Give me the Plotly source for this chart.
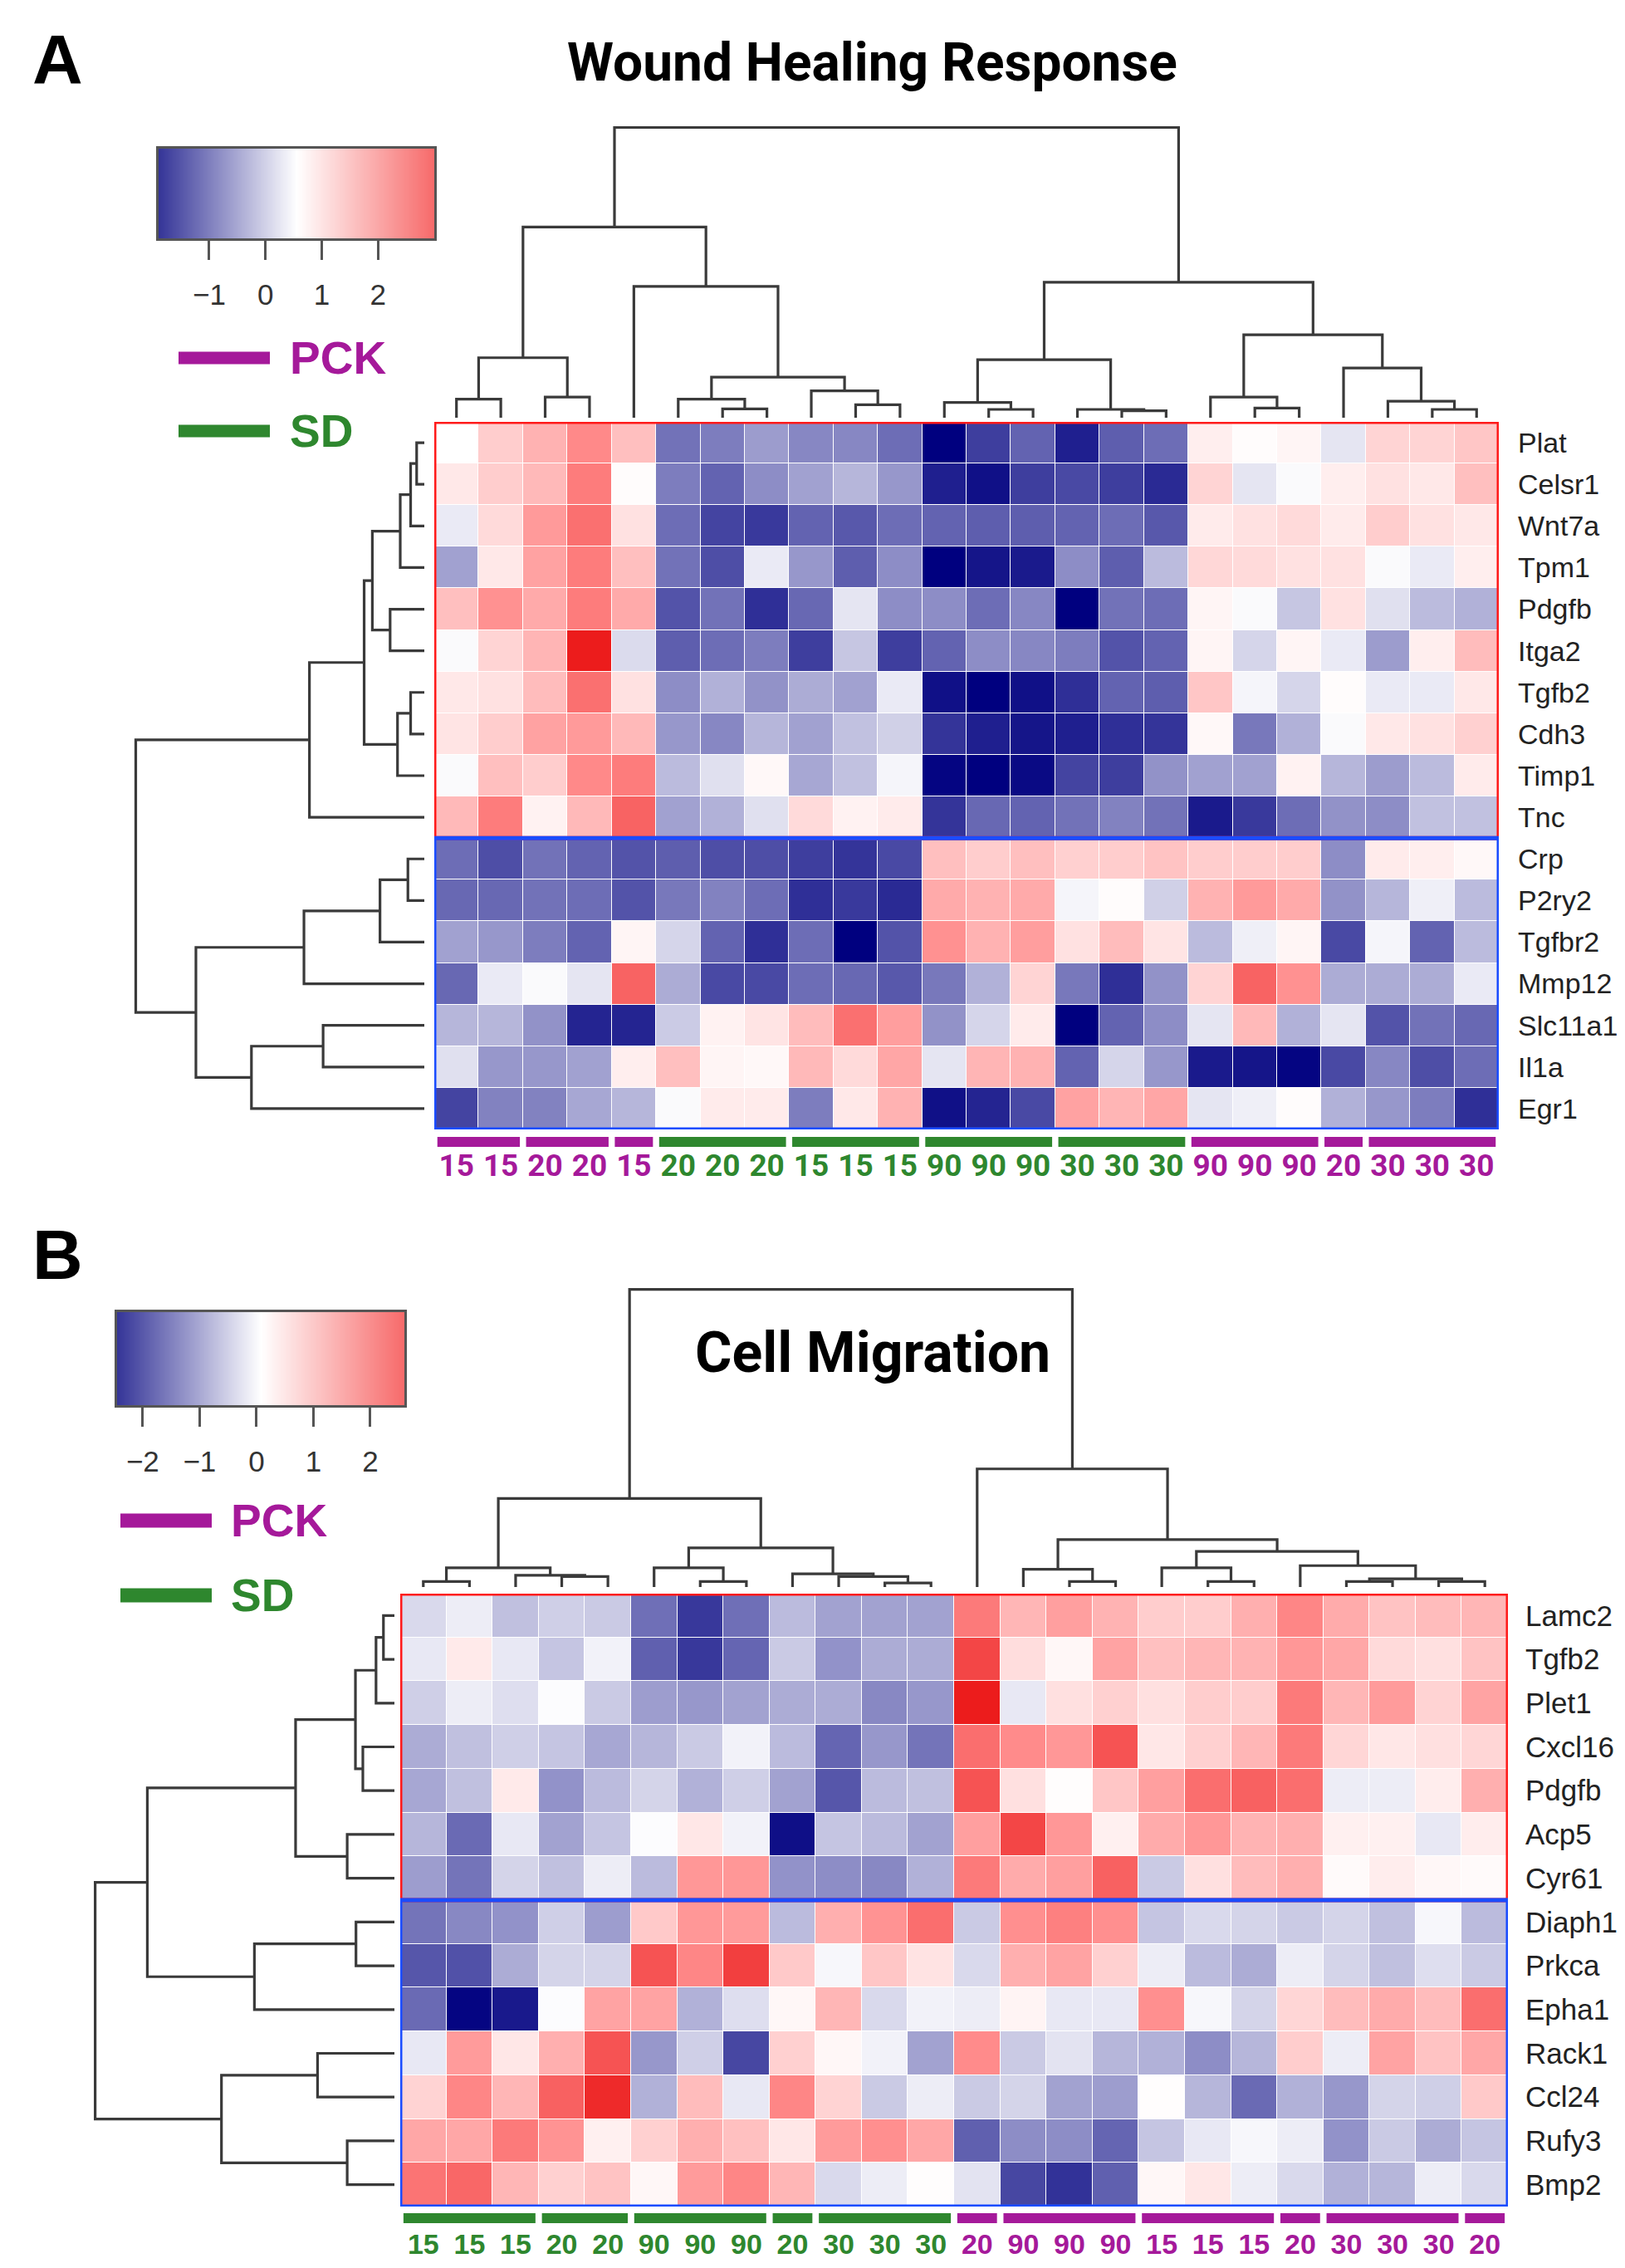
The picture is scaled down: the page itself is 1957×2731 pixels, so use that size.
import plotly.graph_objects as go

# ---------------- data: panel A (Wound Healing Response) ----------------
genes_a = ["Plat", "Celsr1", "Wnt7a", "Tpm1", "Pdgfb", "Itga2", "Tgfb2", "Cdh3", "Timp1", "Tnc",
           "Crp", "P2ry2", "Tgfbr2", "Mmp12", "Slc11a1", "Il1a", "Egr1"]
times_a = ["15", "15", "20", "20", "15", "20", "20", "20", "15", "15", "15", "90",
           "90", "90", "30", "30", "30", "90", "90", "90", "20", "30", "30", "30"]
groups_a = ["PCK"] * 5 + ["SD"] * 12 + ["PCK"] * 7

plat_a = [0.55, 1.3, 1.7, 2.2, 1.5, -0.8, -0.7, -0.4, -0.6, -0.6, -0.85, -1.9, -1.3, -0.95, -1.6, -1.0, -0.85, 0.8, 0.6, 0.7, 0.3, 1.2, 1.2, 1.4]
celsr1_a = [0.9, 1.3, 1.6, 2.3, 0.6, -0.7, -0.95, -0.55, -0.35, -0.15, -0.45, -1.6, -1.75, -1.3, -1.2, -1.3, -1.5, 1.2, 0.3, 0.5, 0.8, 1.0, 0.9, 1.5]
wnt7a_a = [0.35, 1.1, 2.0, 2.4, 1.0, -0.85, -1.25, -1.35, -0.95, -1.05, -0.85, -0.95, -1.0, -1.0, -0.95, -0.85, -1.05, 0.85, 1.0, 1.1, 0.85, 1.3, 1.0, 0.9]
tpm1_a = [-0.35, 0.9, 1.9, 2.3, 1.5, -0.8, -1.15, 0.35, -0.45, -1.0, -0.55, -1.9, -1.7, -1.65, -0.55, -1.0, -0.1, 1.15, 1.1, 1.0, 1.0, 0.5, 0.35, 0.8]
pdgfb_a = [1.5, 2.1, 1.8, 2.3, 1.8, -1.1, -0.8, -1.45, -0.9, 0.3, -0.55, -0.55, -0.85, -0.6, -1.9, -0.8, -0.85, 0.7, 0.5, 0.0, 1.0, 0.25, -0.1, -0.2]
itga2_a = [0.5, 1.2, 1.65, 3.0, 0.2, -1.0, -0.85, -0.7, -1.3, 0.0, -1.3, -0.95, -0.55, -0.6, -0.7, -1.1, -0.95, 0.7, 0.15, 0.7, 0.35, -0.4, 0.8, 1.55]
tgfb2_a = [0.9, 1.0, 1.55, 2.4, 1.0, -0.55, -0.2, -0.5, -0.25, -0.35, 0.35, -1.75, -1.9, -1.75, -1.45, -0.95, -1.0, 1.4, 0.45, 0.15, 0.6, 0.35, 0.35, 0.9]
cdh3_a = [0.95, 1.3, 1.9, 2.0, 1.6, -0.45, -0.6, -0.15, -0.35, -0.05, 0.1, -1.4, -1.6, -1.7, -1.6, -1.45, -1.4, 0.65, -0.75, -0.2, 0.5, 0.9, 1.0, 1.25]
timp1_a = [0.5, 1.5, 1.3, 2.2, 2.3, -0.1, 0.25, 0.65, -0.3, -0.05, 0.45, -1.85, -1.9, -1.8, -1.25, -1.3, -0.5, -0.35, -0.35, 0.75, -0.15, -0.4, -0.1, 0.85]
tnc_a = [1.6, 2.3, 0.75, 1.6, 2.5, -0.35, -0.2, 0.25, 1.1, 0.75, 0.85, -1.4, -0.9, -0.95, -0.8, -0.65, -0.8, -1.65, -1.35, -0.85, -0.5, -0.55, -0.05, -0.05]
crp_a = [-0.85, -1.15, -0.8, -0.95, -1.1, -1.0, -1.15, -1.15, -1.3, -1.4, -1.2, 1.5, 1.3, 1.5, 1.25, 1.3, 1.45, 1.3, 1.3, 1.3, -0.55, 0.85, 0.8, 0.65]
p2ry2_a = [-0.9, -0.9, -0.8, -0.85, -1.1, -0.75, -0.65, -0.85, -1.45, -1.35, -1.5, 1.8, 1.7, 1.8, 0.45, 0.6, 0.1, 1.7, 2.0, 1.8, -0.5, -0.15, 0.4, -0.1]
tgfbr2_a = [-0.35, -0.45, -0.7, -0.95, 0.7, 0.15, -0.95, -1.45, -0.85, -1.9, -1.1, 2.1, 1.7, 1.95, 1.0, 1.55, 0.95, -0.1, 0.4, 0.7, -1.2, 0.45, -0.95, -0.1]
mmp12_a = [-0.9, 0.35, 0.5, 0.3, 2.5, -0.25, -1.2, -1.2, -0.85, -0.9, -1.05, -0.75, -0.2, 1.2, -0.75, -1.45, -0.5, 1.2, 2.5, 2.1, -0.25, -0.25, -0.25, 0.35]
slc11a1_a = [-0.15, -0.15, -0.5, -1.55, -1.55, 0.05, 0.75, 0.95, 1.55, 2.4, 1.95, -0.5, 0.15, 0.85, -1.9, -0.95, -0.55, 0.3, 1.6, -0.2, 0.3, -1.1, -0.8, -0.9]
il1a_a = [0.25, -0.45, -0.45, -0.35, 0.8, 1.5, 0.7, 0.65, 1.6, 1.1, 1.85, 0.3, 1.65, 1.7, -0.95, 0.15, -0.45, -1.65, -1.7, -1.85, -1.2, -0.6, -1.15, -0.85]
egr1_a = [-1.25, -0.65, -0.65, -0.3, -0.15, 0.5, 0.85, 0.85, -0.7, 0.9, 1.7, -1.75, -1.55, -1.2, 1.9, 1.65, 1.85, 0.3, 0.4, 0.6, -0.2, -0.45, -0.7, -1.45]

# dendrograms as nested (height, left, right); ints are leaf positions
col_tree_a = (1050,
              (690,
               (217, (67, 0, 1), (75, 2, 3)),
               (475, 4, (147, (67, 5, (32, 6, 7)), (97, 8, (47, 9, 10))))),
              (490,
               (210, (55, 11, (30, 12, 13)), (30, 14, (25, 15, 16))),
               (300, (75, 17, (35, 18, 19)), (180, 20, (60, 21, (30, 22, 23))))))
row_tree_a = (1055,
              (420,
               (220,
                (190, (88, (50, (28, 0, 1), 2), 3), (125, 4, 5)),
                (98, (50, 6, 7), 8)),
               9),
              (835,
               (440, (162, (60, 10, 11), 12), 13),
               (632, (370, 14, 15), 16)))
key_range_a = [-1.9, 3.0]
key_ticks_a = [-1, 0, 1, 2]

# ---------------- data: panel B (Cell Migration) ----------------
genes_b = ["Lamc2", "Tgfb2", "Plet1", "Cxcl16", "Pdgfb", "Acp5", "Cyr61",
           "Diaph1", "Prkca", "Epha1", "Rack1", "Ccl24", "Rufy3", "Bmp2"]
times_b = ["15", "15", "15", "20", "20", "90", "90", "90", "20", "30", "30", "30",
           "20", "90", "90", "90", "15", "15", "15", "20", "30", "30", "30", "20"]
groups_b = ["SD"] * 12 + ["PCK"] * 12

lamc2_b = [-0.3, -0.1, -0.55, -0.4, -0.45, -1.35, -1.9, -1.35, -0.6, -0.85, -0.85, -0.85, 1.9, 1.2, 1.5, 1.25, 0.85, 0.85, 1.3, 1.8, 1.35, 1.0, 1.1, 1.2]
tgfb2_b = [-0.15, 0.4, -0.15, -0.5, -0.05, -1.5, -1.9, -1.45, -0.45, -1.0, -0.75, -0.75, 2.3, 0.6, 0.2, 1.45, 1.05, 1.2, 1.25, 1.6, 1.4, 0.65, 0.55, 1.0]
plet1_b = [-0.4, -0.1, -0.25, 0.05, -0.45, -0.9, -0.95, -0.85, -0.75, -0.75, -1.1, -0.95, 2.7, -0.15, 0.55, 0.8, 0.55, 0.85, 0.85, 1.9, 1.2, 1.55, 0.75, 1.45]
cxcl16_b = [-0.75, -0.55, -0.4, -0.5, -0.8, -0.65, -0.45, -0.05, -0.6, -1.45, -0.95, -1.3, 2.0, 1.75, 1.6, 2.2, 0.45, 0.8, 1.2, 1.9, 0.7, 0.45, 0.55, 0.7]
pdgfb_b = [-0.8, -0.55, 0.4, -1.0, -0.6, -0.35, -0.7, -0.4, -0.85, -1.6, -0.6, -0.55, 2.2, 0.55, 0.1, 0.95, 1.5, 2.0, 2.1, 2.0, -0.1, -0.1, 0.35, 1.3]
acp5_b = [-0.65, -1.4, -0.15, -0.85, -0.5, 0.05, 0.45, -0.05, -2.3, -0.5, -0.6, -0.85, 1.5, 2.3, 1.6, 0.3, 1.35, 1.6, 1.25, 1.3, 0.3, 0.3, -0.15, 0.35]
cyr61_b = [-0.9, -1.3, -0.35, -0.55, -0.1, -0.6, 1.6, 1.6, -1.0, -1.05, -1.1, -0.7, 1.9, 1.35, 1.5, 2.1, -0.45, 0.55, 1.1, 1.3, 0.15, 0.35, 0.2, 0.15]
diaph1_b = [-1.3, -1.1, -1.0, -0.4, -0.9, 0.9, 1.6, 1.55, -0.6, 1.3, 1.65, 2.0, -0.45, 1.7, 1.85, 1.7, -0.5, -0.3, -0.35, -0.45, -0.35, -0.55, 0.0, -0.6]
prkca_b = [-1.6, -1.65, -0.75, -0.35, -0.35, 2.2, 1.8, 2.35, 0.9, 0.0, 0.95, 0.5, -0.3, 1.3, 1.45, 0.8, -0.1, -0.6, -0.75, -0.1, -0.35, -0.55, -0.25, -0.45]
epha1_b = [-1.4, -2.4, -2.2, 0.05, 1.45, 1.45, -0.7, -0.25, 0.2, 1.2, -0.3, -0.05, -0.1, 0.25, -0.15, -0.15, 1.7, 0.0, -0.35, 0.7, 1.1, 1.35, 1.1, 2.0]
rack1_b = [-0.15, 1.55, 0.45, 1.3, 2.2, -0.95, -0.4, -1.75, 0.8, 0.2, -0.05, -0.85, 1.75, -0.45, -0.2, -0.65, -0.7, -1.05, -0.65, 0.85, -0.1, 1.45, 1.0, 1.4]
ccl24_b = [0.75, 1.8, 1.2, 2.1, 2.5, -0.7, 1.1, -0.15, 1.8, 0.75, -0.45, -0.1, -0.45, -0.35, -0.85, -0.9, 0.1, -0.65, -1.4, -0.7, -0.95, -0.35, -0.4, 0.9]
rufy3_b = [1.4, 1.4, 1.9, 1.65, 0.3, 0.8, 1.3, 1.05, 0.45, 1.55, 1.7, 1.4, -1.5, -1.05, -1.05, -1.45, -0.5, -0.15, 0.0, -0.1, -1.0, -0.45, -0.75, -0.5]
bmp2_b = [1.95, 2.05, 1.2, 0.8, 1.0, 0.2, 1.55, 1.8, 1.2, -0.3, -0.1, 0.1, -0.2, -1.75, -1.95, -1.5, 0.2, 0.45, -0.1, -0.3, -0.7, -0.65, -0.1, -0.3]

col_tree_b = (1086,
              (323,
               (70, (20, 0, 1), (43, 2, (38, 3, 4))),
               (143, (70, 5, (20, 6, 7)), (48, 8, (38, 9, (15, 10, 11))))),
              (431,
               12,
               (173, (65, 13, (20, 14, 15)),
                (130, (70, 16, (20, 17, 18)), (78, 19, (30, (20, 20, 21), (20, 22, 23)))))))
row_tree_b = (1090,
              (900,
               (360, (142, (67, (40, 0, 1), 2), (115, 3, 4)), (172, 5, 6)),
               (510, (140, 7, 8), 9)),
              (630, (280, 10, 11), (172, 12, 13)))
key_range_b = [-2.45, 2.6]
key_ticks_b = [-2, -1, 0, 1, 2]

z_a = [plat_a, celsr1_a, wnt7a_a, tpm1_a, pdgfb_a, itga2_a, tgfb2_a, cdh3_a, timp1_a, tnc_a,
       crp_a, p2ry2_a, tgfbr2_a, mmp12_a, slc11a1_a, il1a_a, egr1_a]
z_b = [lamc2_b, tgfb2_b, plet1_b, cxcl16_b, pdgfb_b, acp5_b, cyr61_b,
       diaph1_b, prkca_b, epha1_b, rack1_b, ccl24_b, rufy3_b, bmp2_b]

# ---------------- styling ----------------
W, H = 1957, 2731
PCK_COL = "#A5199A"
SD_COL = "#2E872E"
GROUP_COL = {"PCK": PCK_COL, "SD": SD_COL}
CELL_SCALE = [[0, "#00007F"], [0.5, "#FFFFFF"], [0.735, "#FFB2B2"], [0.835, "#FF8A8A"],
              [0.9, "#F86262"], [1, "#EC1C1C"]]
KEY_SCALE = [[0, "#353598"], [0.5, "#FFFFFF"], [1, "#F76A6A"]]
SANS = "Liberation Sans, Arial, sans-serif"
NARROW = "Roboto, Liberation Sans, sans-serif"
DEND_COL = "#3a3a3a"


def px_x(a, b):
    return [a / W, b / W]


def px_y(top, bottom):
    return [1 - bottom / H, 1 - top / H]


def dendro(tree):
    """Return (pos, height) polyline pieces for a nested (h, left, right) tree."""
    xs, hs = [], []

    def walk(node):
        if isinstance(node, int):
            return float(node), 0.0
        h, left, right = node
        p1, h1 = walk(left)
        p2, h2 = walk(right)
        xs.extend([p1, p1, p2, p2, None])
        hs.extend([h1, h, h, h2, None])
        return (p1 + p2) / 2, h

    walk(tree)
    return xs, hs


def runs(times, groups):
    out = []
    start = 0
    for i in range(1, len(times) + 1):
        if i == len(times) or times[i] != times[start] or groups[i] != groups[start]:
            out.append((start, i - 1, groups[start]))
            start = i
    return out


fig = go.Figure()
shapes, annotations = [], []
hidden = dict(visible=False, showgrid=False, zeroline=False)


def panel(n, z, genes, times, groups, n_top, col_tree, row_tree, zr, ticks,
          hm_x, hm_y, cd_y, rd_x, key_x, key_y, bar_y, lab_font, lab_standoff, gene_size,
          gene_standoff):
    ax = [str(n + i) if n + i > 1 else "" for i in range(4)]
    ncol, nrow = len(times), len(genes)
    # heatmap
    fig.add_trace(go.Heatmap(z=z, zmin=zr[0], zmax=zr[1], colorscale=CELL_SCALE,
                             showscale=False, xgap=1, ygap=1,
                             xaxis="x" + ax[0], yaxis="y" + ax[0], hoverinfo="skip"))
    ticktext = ['<b><span style="color:%s">%s</span></b>' % (GROUP_COL[g], t)
                for t, g in zip(times, groups)]
    fig.update_layout(**{
        "xaxis" + ax[0]: dict(domain=px_x(*hm_x), range=[-0.5, ncol - 0.5], anchor="y" + ax[0],
                              showgrid=False, zeroline=False, ticks="", tickvals=list(range(ncol)),
                              ticktext=ticktext, tickfont=lab_font, ticklabelstandoff=lab_standoff),
        "yaxis" + ax[0]: dict(domain=px_y(*hm_y), range=[nrow - 0.5, -0.5], anchor="x" + ax[0],
                              side="right", showgrid=False, zeroline=False, ticks="",
                              tickvals=list(range(nrow)), ticktext=genes,
                              tickfont=dict(family=SANS, size=gene_size, color="#222"),
                              ticklabelstandoff=gene_standoff),
    })
    # cluster boxes
    shapes.append(dict(type="rect", xref="x" + ax[0], yref="y" + ax[0], x0=-0.5, x1=ncol - 0.5,
                       y0=-0.5, y1=n_top - 0.5, line=dict(color="#FF1A1A", width=5)))
    shapes.append(dict(type="rect", xref="x" + ax[0], yref="y" + ax[0], x0=-0.5, x1=ncol - 0.5,
                       y0=n_top - 0.5, y1=nrow - 0.5, line=dict(color="#1A4CFF", width=5)))
    # group bars under the heatmap
    for a, b, g in runs(times, groups):
        shapes.append(dict(type="rect", xref="x" + ax[0], yref="paper", x0=a - 0.43, x1=b + 0.43,
                           y0=1 - bar_y[1] / H, y1=1 - bar_y[0] / H,
                           fillcolor=GROUP_COL[g], line=dict(width=0)))
    # column dendrogram
    xs, hs = dendro(col_tree)
    fig.add_trace(go.Scatter(x=xs, y=hs, mode="lines", line=dict(color=DEND_COL, width=3.2),
                             xaxis="x" + ax[1], yaxis="y" + ax[1], hoverinfo="skip", showlegend=False))
    fig.update_layout(**{
        "xaxis" + ax[1]: dict(domain=px_x(*hm_x), range=[-0.5, ncol - 0.5], anchor="y" + ax[1], **hidden),
        "yaxis" + ax[1]: dict(domain=px_y(*cd_y), range=[0, col_tree[0] * 1.01], anchor="x" + ax[1], **hidden),
    })
    # row dendrogram
    xs, hs = dendro(row_tree)
    fig.add_trace(go.Scatter(x=hs, y=xs, mode="lines", line=dict(color=DEND_COL, width=3.2),
                             xaxis="x" + ax[2], yaxis="y" + ax[2], hoverinfo="skip", showlegend=False))
    fig.update_layout(**{
        "xaxis" + ax[2]: dict(domain=px_x(*rd_x), range=[row_tree[0] * 1.01, 0], anchor="y" + ax[2], **hidden),
        "yaxis" + ax[2]: dict(domain=px_y(*hm_y), range=[nrow - 0.5, -0.5], anchor="x" + ax[2], **hidden),
    })
    # colour key
    fig.add_trace(go.Heatmap(z=[zr, zr], x=zr, y=[0, 1], zmin=zr[0], zmax=zr[1],
                             colorscale=KEY_SCALE, zsmooth="best", showscale=False,
                             xaxis="x" + ax[3], yaxis="y" + ax[3], hoverinfo="skip"))
    fig.update_layout(**{
        "xaxis" + ax[3]: dict(domain=px_x(*key_x), range=zr, anchor="y" + ax[3],
                              showgrid=False, zeroline=False, tickvals=ticks, ticks="outside",
                              ticklen=23, tickwidth=3, tickcolor="#555", showline=True, mirror=True,
                              linecolor="#555", linewidth=3, ticklabelstandoff=12,
                              tickfont=dict(family=SANS, size=35, color="#333")),
        "yaxis" + ax[3]: dict(domain=px_y(*key_y), range=[0, 1], anchor="x" + ax[3],
                              showgrid=False, zeroline=False, showticklabels=False, ticks="",
                              showline=True, mirror=True, linecolor="#555", linewidth=3),
    })


panel(1, z_a, genes_a, times_a, groups_a, 10, col_tree_a, row_tree_a, key_range_a, key_ticks_a,
      hm_x=(515, 1797), hm_y=(500, 1352), cd_y=(142, 495), rd_x=(152, 503),
      key_x=(183, 515), key_y=(171, 279), bar_y=(1361, 1373),
      lab_font=dict(family=NARROW, size=37), lab_standoff=18, gene_size=34, gene_standoff=22)
panel(5, z_b, genes_b, times_b, groups_b, 7, col_tree_b, row_tree_b, key_range_b, key_ticks_b,
      hm_x=(474, 1808), hm_y=(1911, 2649), cd_y=(1541, 1903), rd_x=(103, 467),
      key_x=(133, 479), key_y=(1572, 1684), bar_y=(2657, 2669),
      lab_font=dict(family=SANS, size=34), lab_standoff=22, gene_size=35, gene_standoff=20)

# legends (PCK / SD)
for (x0, x1, tx, yp, ys, th) in [(207, 317, 339, 423, 511, 15), (137, 247, 268, 1823, 1913, 17)]:
    for name, yy in [("PCK", yp), ("SD", ys)]:
        shapes.append(dict(type="line", xref="paper", yref="paper", x0=x0 / W, x1=x1 / W,
                           y0=1 - yy / H, y1=1 - yy / H, line=dict(color=GROUP_COL[name], width=th)))
        annotations.append(dict(text="<b>%s</b>" % name, xref="paper", yref="paper", x=tx / W,
                                y=1 - yy / H, xanchor="left", yanchor="middle", showarrow=False,
                                font=dict(family=SANS, size=55, color=GROUP_COL[name])))

# panel letters and titles
titles = [
    dict(text="<b>A</b>", x=61 / W, y=1 - 64 / H, font=dict(family=SANS, size=84, color="black")),
    dict(text="<b>B</b>", x=61 / W, y=1 - 1503 / H, font=dict(family=SANS, size=84, color="black")),
    dict(text="<b>Wound Healing Response</b>", x=1042 / W, y=1 - 68 / H,
         font=dict(family=NARROW, size=64, color="black")),
    dict(text="<b>Cell Migration</b>", x=1043 / W, y=1 - 1621 / H,
         font=dict(family=NARROW, size=68, color="black")),
]
for a in titles:
    a.update(xref="paper", yref="paper", xanchor="center", yanchor="middle", showarrow=False)
annotations += titles

fig.update_layout(width=W, height=H, margin=dict(l=0, r=0, t=0, b=0),
                  paper_bgcolor="white", plot_bgcolor="white", showlegend=False,
                  shapes=shapes, annotations=annotations)

fig.write_html("out.html")
